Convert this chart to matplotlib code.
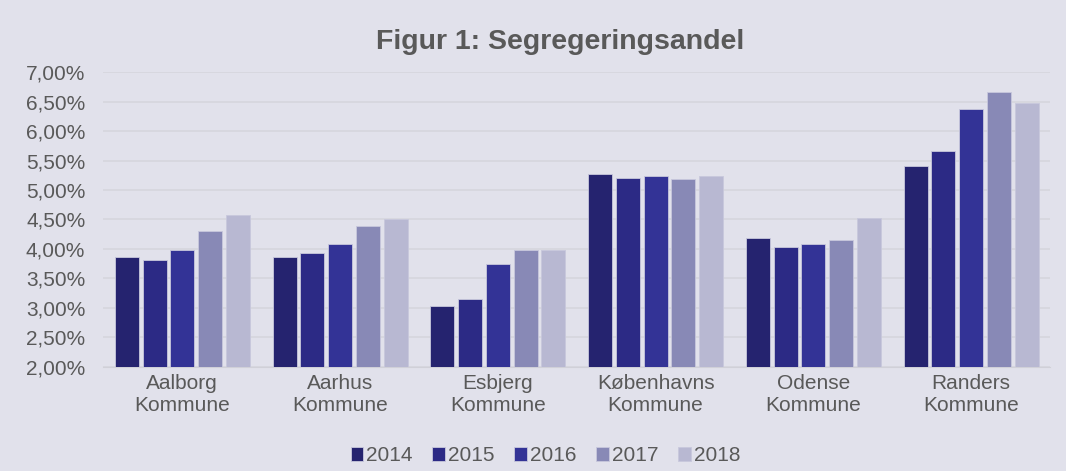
import numpy as np
import matplotlib.pyplot as plt
from matplotlib.ticker import FuncFormatter

plt.rcParams['font.family'] = ['Liberation Sans', 'DejaVu Sans']

kommuner = ['Aalborg\nKommune', 'Aarhus\nKommune', 'Esbjerg\nKommune',
            'Københavns\nKommune', 'Odense\nKommune', 'Randers\nKommune']
years = ['2014', '2015', '2016', '2017', '2018']
v2014 = [3.87, 3.87, 3.03, 5.27, 4.18, 5.40]
v2015 = [3.81, 3.93, 3.16, 5.21, 4.03, 5.66]
v2016 = [3.98, 4.08, 3.74, 5.24, 4.08, 6.37]
v2017 = [4.30, 4.39, 3.98, 5.18, 4.15, 6.67]
v2018 = [4.57, 4.50, 3.98, 5.23, 4.53, 6.47]
series = [v2014, v2015, v2016, v2017, v2018]
colors = ['#25236F', '#2C2A85', '#333396', '#8889B6', '#B8B8D2']

bg = '#E1E1EB'
txt = '#595959'

fig = plt.figure(figsize=(10.66, 4.71), dpi=100, facecolor=bg)
ax = fig.add_axes([0.097, 0.221, 0.888, 0.626], facecolor=bg)

x = np.arange(len(kommuner))
slot = 0.176
for i, vals in enumerate(series):
    ax.bar(x + (i - 2) * slot, vals, width=0.152, bottom=0,
           color=colors[i], edgecolor='#C8C8DC', linewidth=0.6,
           label=years[i], zorder=3)

ax.set_ylim(2.0, 7.0)
ax.set_xlim(-0.5, 5.5)
ax.set_yticks(np.arange(2.0, 7.01, 0.5))
ax.yaxis.set_major_formatter(FuncFormatter(lambda v, p: f'{v:.2f}%'.replace('.', ',')))
ax.grid(axis='y', color='#D5D5DD', linewidth=1.2, zorder=0)
ax.set_xticks(x)
ax.set_xticklabels(kommuner, fontsize=15, color=txt, linespacing=1.2)
ax.tick_params(axis='both', length=0, labelsize=15, colors=txt)
ax.tick_params(axis='y', pad=13)
ax.tick_params(axis='x', pad=5)
for s in ['left', 'right', 'top']:
    ax.spines[s].set_visible(False)
ax.spines['bottom'].set_color('#D0D0D8')

fig.text(0.525, 0.911, 'Figur 1: Segregeringsandel', ha='center', va='center',
         fontsize=20.5, fontweight='bold', color=txt)

ax.legend(loc='center', bbox_to_anchor=(0.467, -0.302), ncol=5, frameon=False,
          fontsize=15, labelcolor=txt, handlelength=0.6, handleheight=0.6,
          handletextpad=0.15, columnspacing=0.95, borderpad=0)

fig.savefig('out.png', dpi=100, facecolor=bg)
